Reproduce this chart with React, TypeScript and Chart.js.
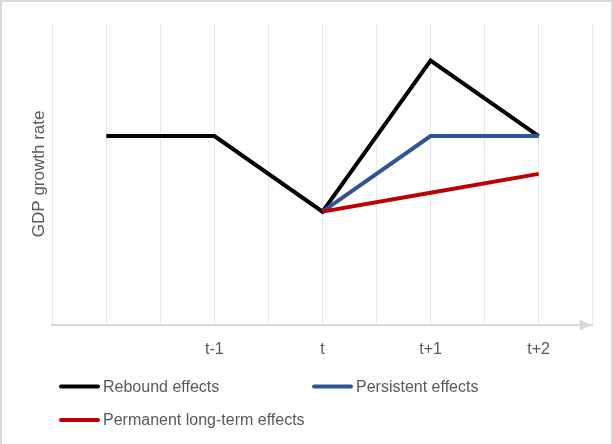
import React, { useEffect, useRef } from "react";
import { Chart, registerables } from "chart.js";

Chart.register(...registerables);

const categories = ["", "t-1", "t", "t+1", "t+2"];
const reboundEffects = [5, 5, 3, 7, 5];
const persistentEffects = [null, null, 3, 5, 5];
const permanentEffects = [null, null, 3, 3.5, 4];
const seriesNames = ["Rebound effects", "Persistent effects", "Permanent long-term effects"];
const seriesColors = ["#000000", "#2F5597", "#C00000"];
const yTitle = "GDP growth rate";

const FONT = "'Liberation Sans', Arial, sans-serif";
const TEXT = "#595959";

const toPoints = (arr: (number | null)[]) =>
  arr.map((v, i) => ({ x: i, y: v }));

const chromePlugin = {
  id: "chrome",
  afterDraw(chart: any) {
    const ctx = chart.ctx;
    const area = chart.chartArea;
    ctx.save();
    // outer border
    ctx.fillStyle = "#d9d9d9";
    ctx.fillRect(0, 0, chart.width, 2);
    ctx.fillRect(0, 0, 2, chart.height);
    ctx.fillRect(chart.width - 2, 0, 2, chart.height);
    // axis arrow
    const y = area.bottom;
    ctx.beginPath();
    ctx.moveTo(area.right - 1, y);
    ctx.lineTo(area.right - 13, y - 5.5);
    ctx.lineTo(area.right - 13, y + 5.5);
    ctx.closePath();
    ctx.fill();
    // legend
    const items = [
      { x: 59, y: 386.5, i: 0 },
      { x: 312, y: 386.5, i: 1 },
      { x: 59, y: 420, i: 2 },
    ];
    ctx.font = "16px " + FONT;
    ctx.textBaseline = "middle";
    ctx.textAlign = "left";
    items.forEach((it) => {
      const ds = chart.data.datasets[it.i];
      ctx.strokeStyle = ds.borderColor;
      ctx.lineWidth = 4;
      ctx.lineCap = "round";
      ctx.beginPath();
      ctx.moveTo(it.x + 2, it.y);
      ctx.lineTo(it.x + 39, it.y);
      ctx.stroke();
      ctx.fillStyle = TEXT;
      ctx.fillText(ds.label, it.x + 44, it.y + 1);
    });
    ctx.restore();
  },
};

export default function App() {
  const ref = useRef<HTMLCanvasElement>(null);
  useEffect(() => {
    const series = [reboundEffects, persistentEffects, permanentEffects];
    const chart = new Chart(ref.current as HTMLCanvasElement, {
      type: "line",
      data: {
        datasets: series.map((s, i) => ({
          label: seriesNames[i],
          data: toPoints(s),
          borderColor: seriesColors[i],
          backgroundColor: seriesColors[i],
          borderWidth: 4,
          pointRadius: 0,
          borderJoinStyle: "miter",
          order: 3 - i,
        })),
      },
      options: {
        animation: false,
        responsive: false,
        maintainAspectRatio: false,
        layout: { padding: { left: 0, right: 20.3, top: 22.7, bottom: 0 } },
        plugins: { legend: { display: false }, tooltip: { enabled: false } },
        scales: {
          x: {
            type: "linear",
            min: -0.5,
            max: 4.5,
            afterFit: (s: any) => {
              s.height = 119;
            },
            grid: { color: "#e9e9e9", lineWidth: 1, drawTicks: false },
            border: { display: true, color: "#d9d9d9", width: 2 },
            ticks: {
              stepSize: 0.5,
              autoSkip: false,
              maxRotation: 0,
              padding: 15,
              color: TEXT,
              font: { family: FONT, size: 16 },
              callback: (v: any) => {
                const n = Number(v);
                if (Math.abs(n - Math.round(n)) < 1e-6) {
                  return categories[Math.round(n)] ?? "";
                }
                return "";
              },
            },
          },
          y: {
            type: "linear",
            min: 0,
            max: 8,
            afterFit: (s: any) => {
              s.width = 52.3;
            },
            grid: { display: false },
            border: { display: false },
            ticks: { display: false },
            title: {
              display: true,
              text: yTitle,
              color: TEXT,
              font: { family: FONT, size: 17 },
              padding: { top: 29, bottom: 0 },
            },
          },
        },
      },
      plugins: [chromePlugin],
    } as any);
    return () => chart.destroy();
  }, []);
  return (
    <div style={{ position: "fixed", left: 0, top: 0, width: 613, height: 444, background: "#fff" }}>
      <canvas ref={ref} width={613} height={444} style={{ display: "block" }} />
    </div>
  );
}
